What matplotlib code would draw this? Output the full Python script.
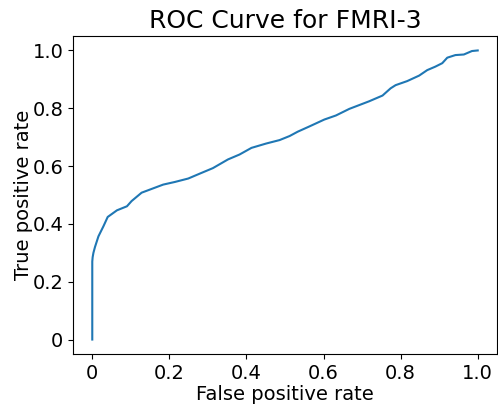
import matplotlib
matplotlib.use("Agg")
import matplotlib.pyplot as plt
from matplotlib.ticker import FuncFormatter

# ROC curve points
fpr = [0.0, 0.0, 0.001, 0.003, 0.007, 0.016, 0.029, 0.040, 0.064, 0.090, 0.102,
       0.128, 0.154, 0.184, 0.214, 0.249, 0.279, 0.313, 0.352, 0.382, 0.413,
       0.451, 0.486, 0.512, 0.533, 0.563, 0.602, 0.632, 0.667, 0.718, 0.753,
       0.774, 0.787, 0.817, 0.848, 0.869, 0.890, 0.908, 0.921, 0.942, 0.964,
       0.985, 1.0]
tpr = [0.0, 0.27, 0.285, 0.30, 0.32, 0.357, 0.392, 0.424, 0.447, 0.461, 0.479,
       0.508, 0.521, 0.536, 0.545, 0.557, 0.574, 0.593, 0.623, 0.640, 0.663,
       0.678, 0.690, 0.704, 0.719, 0.737, 0.761, 0.775, 0.798, 0.824, 0.844,
       0.869, 0.880, 0.894, 0.913, 0.932, 0.944, 0.956, 0.975, 0.984, 0.986,
       0.998, 1.0]
ticks = [0, 0.2, 0.4, 0.6, 0.8, 1.0]

fig = plt.figure(figsize=(4.98, 4.05), dpi=100)
ax = fig.add_axes([73 / 498, 51 / 405, 424 / 498, 318 / 405])

ax.plot(fpr, tpr, color='tab:blue', linewidth=1.5)
ax.set_xlim(-0.05, 1.05)
ax.set_ylim(-0.05, 1.05)

fmt = FuncFormatter(lambda v, p: '0' if abs(v) < 1e-9 else f'{v:.1f}')
ax.set_xticks(ticks)
ax.set_yticks(ticks)
ax.xaxis.set_major_formatter(fmt)
ax.yaxis.set_major_formatter(fmt)
ax.tick_params(labelsize=14)

ax.set_xlabel('False positive rate', fontsize=14, labelpad=2)
ax.set_ylabel('True positive rate', fontsize=14, labelpad=-0.5)
ax.set_title('ROC Curve for FMRI-3', fontsize=18)

fig.savefig('out.png', dpi=100)
